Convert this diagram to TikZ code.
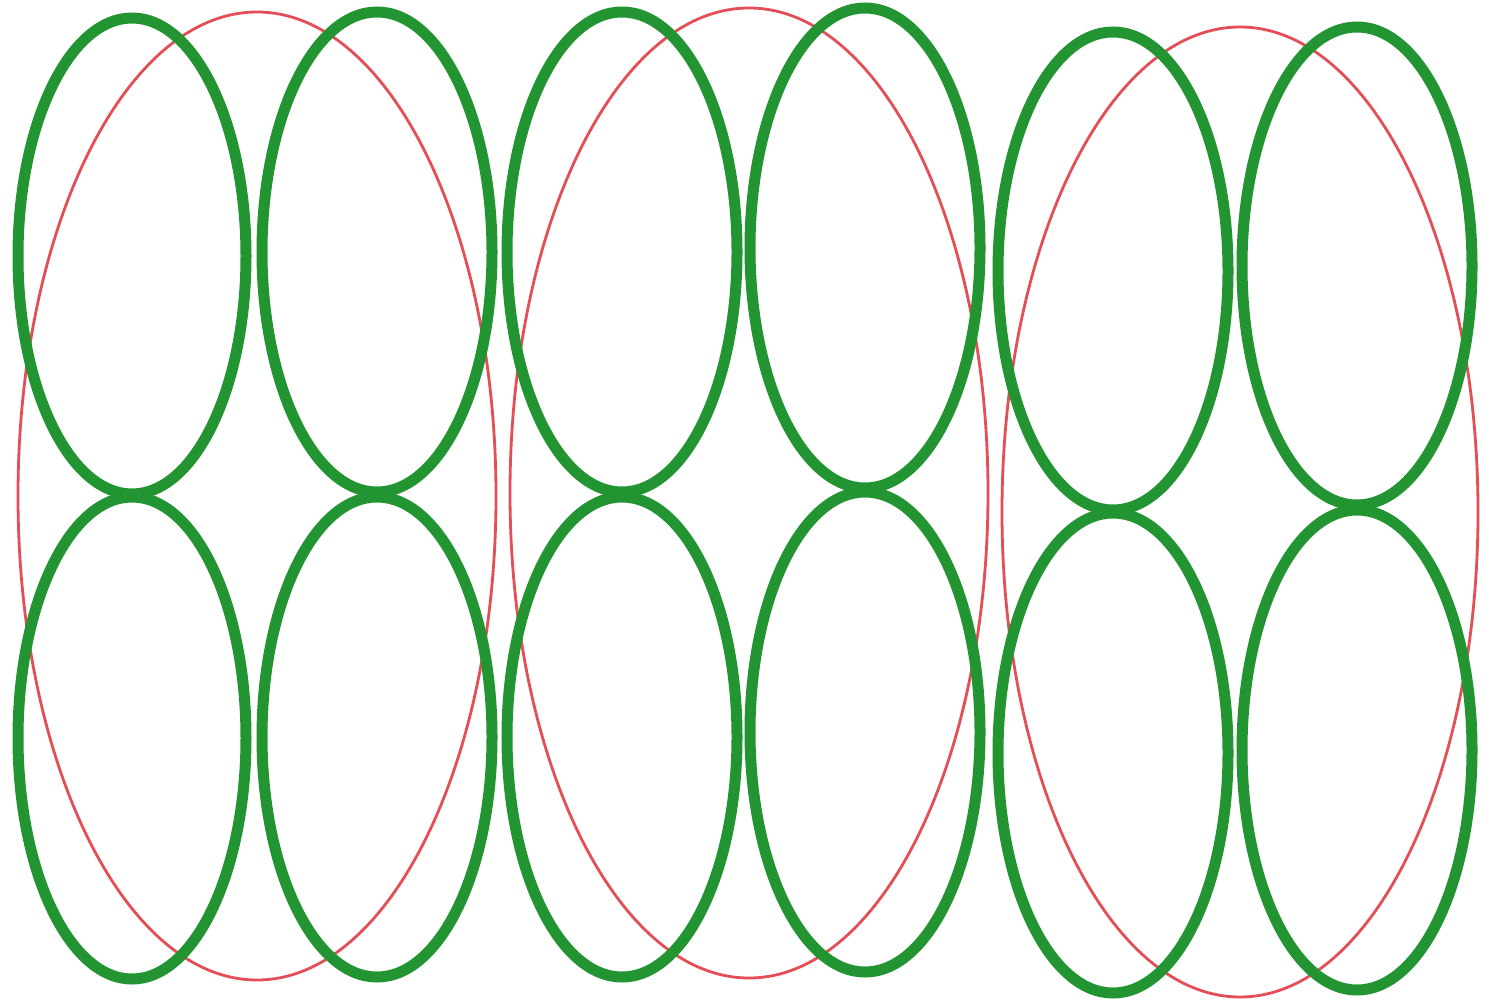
\documentclass[tikz,border=0pt]{standalone}
\definecolor{ringgreen}{RGB}{34,148,50}
\definecolor{ringred}{RGB}{228,78,86}
\begin{document}
\begin{tikzpicture}[x=1pt,y=-1pt,
  greenring/.style={draw=ringgreen,line width=11pt},
  redring/.style={draw=ringred,line width=2.8pt}]
\useasboundingbox[fill=white] (0,0) rectangle (1504,1008);
% red ellipses
\draw[redring] (257,496) ellipse (239 and 484);
\draw[redring] (749,493) ellipse (239 and 485);
\draw[redring] (1240,512) ellipse (238 and 485);
% green ellipses, top row
\draw[greenring] (132,256) ellipse (114 and 238);
\draw[greenring] (377,252) ellipse (115 and 240);
\draw[greenring] (622,252) ellipse (115 and 240);
\draw[greenring] (865,248) ellipse (115 and 240);
\draw[greenring] (1113,271) ellipse (115 and 239);
\draw[greenring] (1357,266) ellipse (115 and 239);
% green ellipses, bottom row
\draw[greenring] (132,738) ellipse (114 and 241);
\draw[greenring] (377,737) ellipse (115 and 240);
\draw[greenring] (622,737) ellipse (115 and 240);
\draw[greenring] (865,732) ellipse (115 and 240);
\draw[greenring] (1113,753) ellipse (115 and 240);
\draw[greenring] (1357,750) ellipse (115 and 240);
\end{tikzpicture}
\end{document}
